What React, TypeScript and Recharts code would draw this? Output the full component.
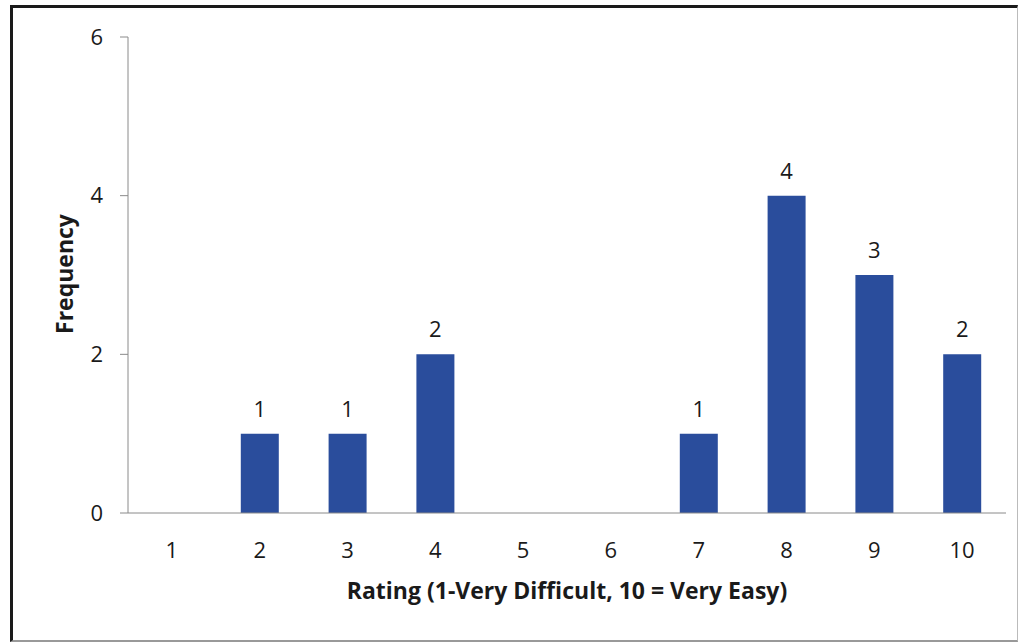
import { Bar, BarChart, LabelList, XAxis, YAxis } from "recharts";

const ratings = ["1", "2", "3", "4", "5", "6", "7", "8", "9", "10"];
const frequencies = [0, 1, 1, 2, 0, 0, 1, 4, 3, 2];
const yTicks = [0, 2, 4, 6];

const data = ratings.map((rating, i) => ({ rating, frequency: frequencies[i] }));

const FONT = "'Open Sans', Lato, sans-serif";

export default function App() {
  return (
    <div
      style={{
        position: "absolute",
        left: 0,
        top: 0,
        width: 1023,
        height: 642,
        background: "#fff",
        fontFamily: FONT,
      }}
    >
      <div
        style={{
          position: "absolute",
          left: 10,
          top: 5,
          width: 1004,
          height: 632,
          borderTop: "3px solid #1a1a1a",
          borderLeft: "3px solid #1a1a1a",
          borderRight: "1px solid #bbb",
          borderBottom: "2px solid #999",
        }}
      />
      <BarChart
        width={1023}
        height={642}
        data={data}
        margin={{ top: 37, right: 17, bottom: 39, left: 68 }}
        style={{ position: "absolute", left: 0, top: 0 }}
      >
        <XAxis
          dataKey="rating"
          height={90}
          tickLine={false}
          tickSize={6}
          tickMargin={23}
          axisLine={{ stroke: "#8a8a8a" }}
          tick={{ fill: "#1a1a1a", fontSize: 22, fontFamily: FONT }}
          label={{
            value: "Rating (1-Very Difficult, 10 = Very Easy)",
            position: "insideBottom",
            offset: 4,
            fill: "#1a1a1a",
            fontSize: 23,
            fontWeight: 700,
            fontFamily: FONT,
          }}
        />
        <YAxis
          width={60}
          domain={[0, 6]}
          ticks={yTicks}
          tickSize={8}
          tickMargin={17}
          axisLine={{ stroke: "#8a8a8a" }}
          tickLine={{ stroke: "#8a8a8a" }}
          tick={{ fill: "#1a1a1a", fontSize: 22, fontFamily: FONT }}
          label={{
            content: () => (
              <text
                x={64}
                y={274}
                transform="rotate(-90 64 274)"
                textAnchor="middle"
                dominantBaseline="central"
                fill="#1a1a1a"
                fontSize={23}
                fontWeight={700}
                fontFamily={FONT}
              >
                Frequency
              </text>
            ),
          }}
        />
        <Bar dataKey="frequency" fill="#2a4d9c" barSize={38} isAnimationActive={false}>
          <LabelList
            dataKey="frequency"
            position="top"
            offset={17}
            fill="#1a1a1a"
            fontSize={22}
            fontFamily={FONT}
            formatter={(v: number) => (v ? v : "")}
          />
        </Bar>
      </BarChart>
    </div>
  );
}
